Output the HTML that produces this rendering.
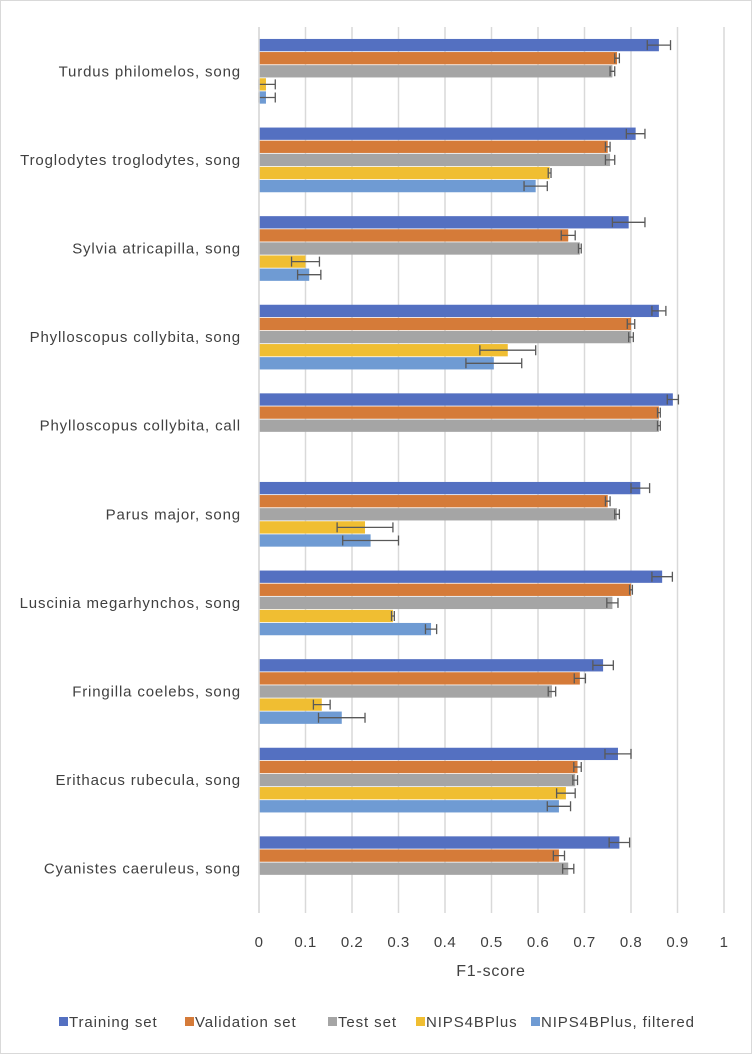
<!DOCTYPE html>
<html><head><meta charset="utf-8"><style>
body{margin:0;background:#fff;}
#wrap{position:relative;width:752px;height:1054px;box-sizing:border-box;border:1px solid #d9d9d9;background:#fff;font-family:"Liberation Sans",sans-serif;}
svg text{font-family:"Liberation Sans",sans-serif;fill:#404040;}
</style></head><body>
<div id="wrap">
<svg id="chart" width="752" height="1054"></svg>
</div>
<script>
const categories=["Turdus philomelos, song","Troglodytes troglodytes, song","Sylvia atricapilla, song","Phylloscopus collybita, song","Phylloscopus collybita, call","Parus major, song","Luscinia megarhynchos, song","Fringilla coelebs, song","Erithacus rubecula, song","Cyanistes caeruleus, song"];
const seriesNames=["Training set","Validation set","Test set","NIPS4BPlus","NIPS4BPlus, filtered"];
const trainVals=[0.86,0.81,0.795,0.86,0.89,0.82,0.867,0.74,0.772,0.775];
const trainErr=[0.025,0.02,0.035,0.015,0.012,0.02,0.022,0.022,0.028,0.022];
const valVals=[0.77,0.75,0.665,0.80,0.86,0.75,0.80,0.69,0.685,0.645];
const valErr=[0.005,0.005,0.015,0.008,0.003,0.005,0.003,0.012,0.008,0.012];
const testVals=[0.76,0.755,0.69,0.80,0.86,0.77,0.76,0.63,0.68,0.665];
const testErr=[0.005,0.01,0.003,0.005,0.003,0.005,0.012,0.008,0.005,0.012];
const nipsVals=[0.015,0.625,0.10,0.535,0,0.228,0.288,0.135,0.66,0];
const nipsErr=[0.02,0.003,0.03,0.06,0,0.06,0.003,0.018,0.02,0];
const filtVals=[0.015,0.595,0.108,0.505,0,0.24,0.37,0.178,0.645,0];
const filtErr=[0.02,0.025,0.025,0.06,0,0.06,0.012,0.05,0.025,0];
const ticks=[0,0.1,0.2,0.3,0.4,0.5,0.6,0.7,0.8,0.9,1];
const tickLabels=["0","0.1","0.2","0.3","0.4","0.5","0.6","0.7","0.8","0.9","1"];
const colors=["#5470c1","#d57b39","#a5a5a5","#f0be32","#6f9bd3"];
const NS="http://www.w3.org/2000/svg";
const svg=document.getElementById("chart");
const X0=258,X1=723,Y0=26,Y1=912;
const x=v=>X0+v*(X1-X0);
const band=(Y1-Y0)/categories.length;
const barH=13.1;
function mk(t,a,p){const e=document.createElementNS(NS,t);for(const k in a)e.setAttribute(k,a[k]);(p||svg).appendChild(e);return e;}
ticks.forEach((t,i)=>{
 const g=mk("line",{x1:x(t),x2:x(t),y1:Y0,y2:Y1,stroke:"#d9d9d9","stroke-width":1.5});
 
 
 const tl=mk("text",{x:x(t),y:946,"text-anchor":"middle","font-size":"15","letter-spacing":"0.5"});
 tl.textContent=tickLabels[i];
 
 
});
const vals=[trainVals,valVals,testVals,nipsVals,filtVals];
const errs=[trainErr,valErr,testErr,nipsErr,filtErr];
categories.forEach((c,ci)=>{
 const cy=Y0+band*(ci+0.5);
 const lab=mk("text",{x:240,y:cy+5,"text-anchor":"end","font-size":"15","letter-spacing":"0.85"});
 lab.textContent=c;
 
 
 const top=cy-barH*2.5;
 for(let s=0;s<5;s++){
  const v=vals[s][ci],e=errs[s][ci];
  const y=top+s*barH;
  const r=mk("rect",{x:X0,y:y+0.4,width:Math.max(0,x(v)-X0),height:barH-0.8,fill:colors[s]});
  
  
  if(v>0||e>0){
   const ym=y+barH/2,xa=x(Math.max(0,v-e)),xb=x(v+e);
   const eb=mk("path",{d:`M${xa},${ym}H${xb}M${xa},${ym-5}V${ym+5}M${xb},${ym-5}V${ym+5}`,stroke:"#595959","stroke-width":1.3,fill:"none"});
   
   
  }
 }
});
const ax=mk("line",{x1:X0,x2:X0,y1:Y0,y2:Y1,stroke:"#d9d9d9","stroke-width":1.5});


const xt=mk("text",{x:490,y:975,"text-anchor":"middle","font-size":"16","letter-spacing":"0.8"});
xt.textContent="F1-score";


const legX=[58,184,327,415,530];
seriesNames.forEach((n,i)=>{
 const sq=mk("rect",{x:legX[i],y:1016,width:9,height:9,fill:colors[i]});
 
 
 const t=mk("text",{x:legX[i]+10,y:1026,"font-size":"15","letter-spacing":"0.9"});
 t.textContent=n;
 
 
});
</script>
</body></html>
